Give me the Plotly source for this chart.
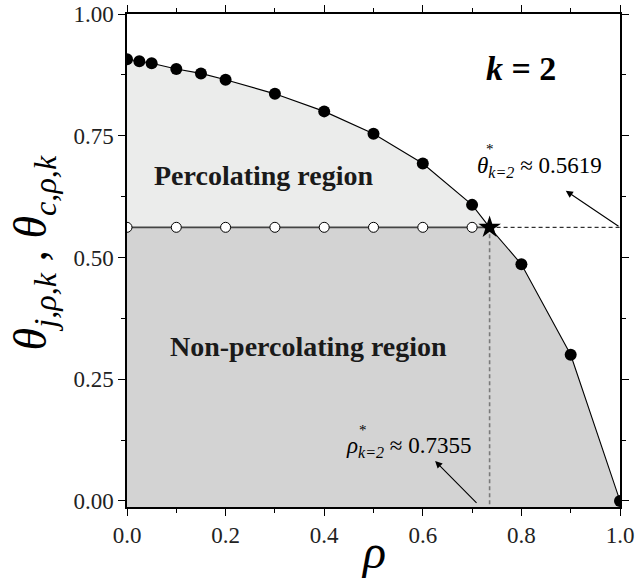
import plotly.graph_objects as go

# ---- data ----
rho_jam = [0.0, 0.025, 0.05, 0.1, 0.15, 0.2, 0.3, 0.4, 0.5, 0.6, 0.7, 0.8, 0.9, 1.0]
theta_jam = [0.907, 0.903, 0.899, 0.887, 0.878, 0.865, 0.836, 0.800, 0.754, 0.693, 0.608, 0.486, 0.300, 0.0]
rho_crit = [0.0, 0.1, 0.2, 0.3, 0.4, 0.5, 0.6, 0.7]
theta_crit = [0.5619] * 8
rho_star = 0.7355
theta_star = 0.5619
x_ticks = [0.0, 0.2, 0.4, 0.6, 0.8, 1.0]
x_tick_labels = ["0.0", "0.2", "0.4", "0.6", "0.8", "1.0"]
y_ticks = [0.0, 0.25, 0.5, 0.75, 1.0]
y_tick_labels = ["0.00", "0.25", "0.50", "0.75", "1.00"]

YMIN = -0.0125
FONT = "Liberation Serif"

# curve including the star point
curve_x = sorted(rho_jam + [rho_star])
curve_y = [dict(zip(rho_jam + [rho_star], theta_jam + [theta_star]))[x] for x in curve_x]

# lower (non-percolating) region polygon
low_x = [0.0] + [x for x in curve_x if x >= rho_star] + [1.0, 0.0]
low_y = [theta_star] + [y for x, y in zip(curve_x, curve_y) if x >= rho_star] + [YMIN, YMIN]

# upper (percolating) region polygon
up_x = [x for x in curve_x if x <= rho_star] + [0.0]
up_y = [y for x, y in zip(curve_x, curve_y) if x <= rho_star] + [theta_star]

fig = go.Figure()
fig.add_trace(go.Scatter(x=low_x, y=low_y, fill="toself", fillcolor="#d3d3d3",
                         mode="none", hoverinfo="skip", showlegend=False))
fig.add_trace(go.Scatter(x=up_x, y=up_y, fill="toself", fillcolor="#ebeceb",
                         mode="none", hoverinfo="skip", showlegend=False))
# dashed guide lines
fig.add_trace(go.Scatter(x=[rho_star, 1.0], y=[theta_star, theta_star], mode="lines",
                         line=dict(color="black", width=1, dash="4px,3px"), showlegend=False))
fig.add_trace(go.Scatter(x=[rho_star, rho_star], y=[theta_star, YMIN], mode="lines",
                         line=dict(color="#7a7a7a", width=1.6, dash="4px,3px"), showlegend=False))
# critical line
fig.add_trace(go.Scatter(x=[0.0, rho_star], y=[theta_star, theta_star], mode="lines",
                         line=dict(color="#444444", width=1.8), showlegend=False))
# jamming curve
fig.add_trace(go.Scatter(x=curve_x, y=curve_y, mode="lines",
                         line=dict(color="black", width=1.1), showlegend=False))
fig.add_trace(go.Scatter(x=rho_jam, y=theta_jam, mode="markers",
                         marker=dict(color="black", size=12), showlegend=False))
fig.add_trace(go.Scatter(x=rho_crit, y=theta_crit, mode="markers",
                         marker=dict(color="white", size=10, line=dict(color="black", width=1)),
                         showlegend=False))
fig.add_trace(go.Scatter(x=[rho_star], y=[theta_star], mode="markers",
                         marker=dict(color="black", size=17, symbol="star"), showlegend=False))

ann = []
ann.append(dict(x=0.80, y=0.889, text="<b><i>k</i> = 2</b>", showarrow=False,
                font=dict(family=FONT, size=34, color="black")))
ann.append(dict(x=0.276, y=0.669, text="<b>Percolating region</b>", showarrow=False,
                font=dict(family=FONT, size=28, color="#1a1a1a")))
ann.append(dict(x=0.369, y=0.318, text="<b>Non-percolating region</b>", showarrow=False,
                font=dict(family=FONT, size=28, color="#1a1a1a")))
ann.append(dict(x=0.836, y=0.686, text="<i>θ</i><sub><i>k=2</i></sub> ≈ 0.5619", showarrow=False,
                font=dict(family=FONT, size=23, color="black")))
ann.append(dict(x=0.736, y=0.722, text="*", showarrow=False,
                font=dict(family=FONT, size=15, color="black")))
ann.append(dict(x=0.570, y=0.111, text="<i>ρ</i><sub><i>k=2</i></sub> ≈ 0.7355", showarrow=False,
                font=dict(family=FONT, size=23, color="black")))
ann.append(dict(x=0.479, y=0.145, text="*", showarrow=False,
                font=dict(family=FONT, size=15, color="black")))
# arrows
ann.append(dict(x=0.89, y=0.637, ax=1.0, ay=theta_star, axref="x", ayref="y",
                text="", showarrow=True, arrowhead=2, arrowsize=1.3, arrowwidth=1.1, arrowcolor="black"))
ann.append(dict(x=0.625, y=0.082, ax=0.712, ay=-0.007, axref="x", ayref="y",
                text="", showarrow=True, arrowhead=2, arrowsize=1.3, arrowwidth=1.1, arrowcolor="black"))
for a in ann:
    a.setdefault("xref", "x")
    a.setdefault("yref", "y")
# axis titles
ann.append(dict(xref="paper", yref="paper", x=0.5, y=-0.09, xanchor="center", yanchor="middle",
                text="<i>ρ</i>", showarrow=False, font=dict(family=FONT, size=48, color="black")))
ann.append(dict(xref="paper", yref="paper", x=-0.188, y=0.515, xanchor="center", yanchor="middle",
                textangle=-90,
                text="<i>θ</i><sub><i>j,ρ,k</i></sub> , <i>θ</i><sub><i>c,ρ,k</i></sub>",
                showarrow=False, font=dict(family=FONT, size=46, color="black")))

axis_common = dict(showgrid=False, zeroline=False, showline=True, linecolor="black", linewidth=1.5,
                   mirror="ticks", ticks="outside", ticklen=7, tickwidth=1.3, tickcolor="black",
                   automargin=False,
                   tickfont=dict(family=FONT, size=23, color="#222222"))

fig.update_layout(
    width=636, height=583,
    margin=dict(l=127, r=16, t=14, b=76, autoexpand=False),
    plot_bgcolor="white", paper_bgcolor="white",
    annotations=ann,
    xaxis=dict(range=[0, 1], tickvals=x_ticks, ticktext=x_tick_labels,
               minor=dict(dtick=0.1, tick0=0, ticks="outside", ticklen=4, tickcolor="black"),
               **axis_common),
    yaxis=dict(range=[YMIN, 1.0], tickvals=y_ticks, ticktext=y_tick_labels,
               minor=dict(dtick=0.125, tick0=0, ticks="outside", ticklen=4, tickcolor="black"),
               **axis_common),
)

fig.write_html("out.html", config={"displayModeBar": False},
               post_script="document.body.style.margin='0';document.body.style.overflow='hidden';")
